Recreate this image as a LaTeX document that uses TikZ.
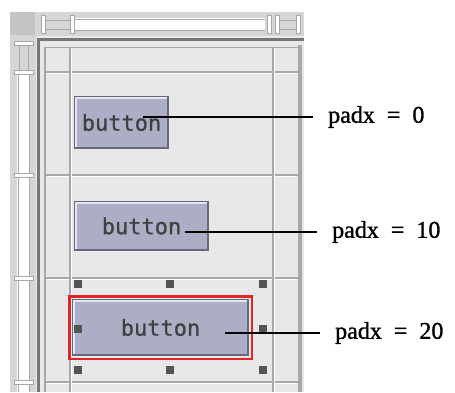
\documentclass[tikz,border=0pt]{standalone}
\usepackage{fontspec}
\newfontfamily\labelfont[FakeBold=1.2]{Liberation Serif}
\setmonofont[FakeBold=0.8]{DejaVu Sans Mono}

\definecolor{panelbg}{RGB}{232,232,232}
\definecolor{rulerbg}{RGB}{214,214,214}
\definecolor{cornerbg}{RGB}{196,196,196}
\definecolor{gridcol}{RGB}{168,168,168}
\definecolor{darkline}{RGB}{118,118,118}
\definecolor{btnfill}{RGB}{172,174,198}
\definecolor{btnlight}{RGB}{228,231,243}
\definecolor{btndark}{RGB}{104,106,124}
\definecolor{handlecol}{RGB}{84,84,84}
\definecolor{selred}{RGB}{226,36,36}

\newcommand\padfont{\labelfont\fontsize{24}{24}\selectfont\spaceskip 0.5em\relax}

\begin{document}
\begin{tikzpicture}[x=1pt,y=-1pt,
    button/.style={draw=btndark,line width=1.5pt,fill=btnfill,inner sep=0pt,
      font=\ttfamily\fontsize{22}{22}\selectfont,text=black!75},
    padlabel/.style={anchor=west,inner xsep=15pt,inner ysep=0pt,font=\padfont},
    leader/.style={line width=2pt},
    gridline/.style={gridcol,line width=2pt},
    ruler/.style={gridcol,line width=1pt}]
    \useasboundingbox (0,0) rectangle (455,392);

    % panel
    \fill[panelbg] (10,12) rectangle (304,392);
    \fill[rulerbg] (10,12) rectangle (304,36);
    \fill[rulerbg] (10,12) rectangle (36,392);
    \fill[cornerbg] (10,12) rectangle (35,35);

    % rulers
    \fill[white] (75,18) rectangle (265,31);
    \draw[ruler] (75,19) -- (265,19) (75,30) -- (265,30);
    \fill[white] (17,75) rectangle (30,392);
    \draw[ruler] (18,75) -- (18,392) (29,75) -- (29,392);
    \foreach \x in {43,72,269,277,298}
      \draw[ruler,fill=white] (\x-2,15) rectangle (\x+2,33);
    \draw[ruler] (45,20) -- (70,20) (45,29) -- (70,29) (279,20) -- (296,20) (279,29) -- (296,29);
    \foreach \y in {43,72,175,278,382}
      \draw[ruler,fill=white] (14,\y-2) rectangle (33,\y+2);
    \draw[ruler] (19,45) -- (19,70) (28,45) -- (28,70);

    % frame
    \draw[darkline,line width=3pt] (38.5,392) |- (304,39.5);
    \draw[gridcol,line width=1.5pt] (45,392) |- (300,47.5);

    % grid
    \foreach \y in {72,175,278,382} {
      \draw[gridline] (45,\y) -- (299,\y);
      \draw[white,line width=1pt] (47,\y+1.5) -- (297,\y+1.5);
    }
    \foreach \x in {70,273} {
      \draw[gridline] (\x,48) -- (\x,392);
      \draw[white,line width=1pt] (\x+1.5,49) -- (\x+1.5,392);
    }
    \draw[gridcol,line width=4pt] (300,45) -- (300,392);

    % buttons
    \node[button,minimum width=93pt,minimum height=51pt] (btn0) at (121.5,122.5) {button};
    \node[button,minimum width=133pt,minimum height=48pt] (btn1) at (141.5,226) {button};
    \node[button,minimum width=175pt,minimum height=55pt] (btn2) at (160.5,327.5) {button};
    \draw[btnlight,line width=2pt] ([xshift=1.5pt,yshift=1.5pt]btn0.south west) |- ([xshift=-1.5pt,yshift=-1.5pt]btn0.north east);
    \draw[btnlight,line width=2pt] ([xshift=1.5pt,yshift=1.5pt]btn1.south west) |- ([xshift=-1.5pt,yshift=-1.5pt]btn1.north east);
    \draw[btnlight,line width=2pt] ([xshift=1.5pt,yshift=1.5pt]btn2.south west) |- ([xshift=-1.5pt,yshift=-1.5pt]btn2.north east);

    % selection
    \draw[selred,line width=2.5pt] ([xshift=-3pt,yshift=-3pt]btn2.south west) rectangle ([xshift=3pt,yshift=3pt]btn2.north east);
    \foreach \x/\y in {78/284,170/284,263/284,78/329,263/329,78/370,170/370,263/370}
      \fill[handlecol] (\x-4,\y-4) rectangle (\x+4,\y+4);

    % labels
    \coordinate (p0) at (143,117);
    \coordinate (p1) at (185,232);
    \coordinate (p2) at (225,333);
    \node[padlabel] (lbl0) at (313,117) {padx = 0};
    \node[padlabel] (lbl1) at (317,232) {padx = 10};
    \node[padlabel] (lbl2) at (320,333) {padx = 20};
    \draw[leader] (p0) -- (lbl0.west);
    \draw[leader] (p1) -- (lbl1.west);
    \draw[leader] (p2) -- (lbl2.west);
\end{tikzpicture}
\end{document}
